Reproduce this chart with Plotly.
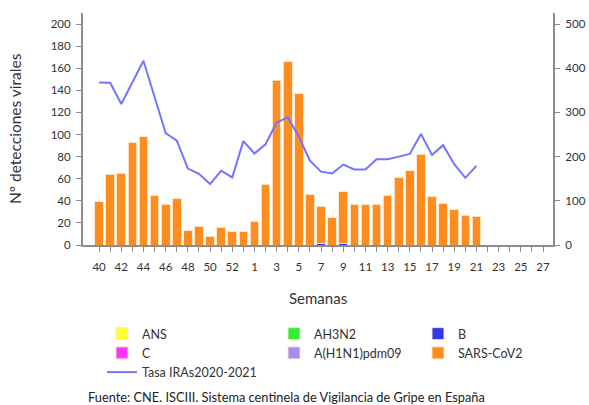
import plotly.graph_objects as go

weeks = [str(w) for w in range(40, 54)] + [str(w) for w in range(1, 28)]

sars_cov2 = [39, 64, 65, 93, 98, 45, 37, 42, 13, 17, 8, 16, 12, 12,
             21, 55, 149, 166, 137, 46, 34, 25, 47, 37, 37, 37, 45, 61, 67, 82,
             44, 38, 32, 27, 26, None, None, None, None, None, None]
b_vals = [0] * 41
b_vals[20] = 1   # week 7
b_vals[22] = 1   # week 9
zeros = [0] * 41

tasa_iras = [368, 367, 319, 367, 417, 335, 253, 236, 173, 161, 138, 168, 153, 235,
             207, 228, 277, 289, 245, 191, 166, 162, 182, 171, 171, 194, 194, 200, 206, 251,
             204, 226, 183, 152, 179, None, None, None, None, None, None]

left_ticks = list(range(0, 201, 20))
right_ticks = list(range(0, 501, 100))
tick_text = [w if i % 2 == 0 else "" for i, w in enumerate(weeks)]
xpos = list(range(len(weeks)))

FONT = "Lato, 'Open Sans', sans-serif"
AX = "#8c8c8c"
TXT = "#333"

fig = go.Figure()

def bar(name, y, color, legend):
    fig.add_trace(go.Bar(
        x=xpos, y=y, name=name, legend=legend,
        marker=dict(color=color, line=dict(color="rgba(255,230,200,0.9)", width=1)),
        yaxis="y",
    ))

bar("B", b_vals, "#3535ee", "legend3")
bar("ANS", zeros, "#ffff33", "legend")
bar("C", zeros, "#ff33ff", "legend")
bar("AH3N2", zeros, "#33ee33", "legend2")
bar("A(H1N1)pdm09", zeros, "#a58cf0", "legend2")
bar("SARS-CoV2", sars_cov2, "#ff8c1f", "legend3")

fig.add_trace(go.Scatter(
    x=xpos, y=tasa_iras, name="Tasa IRAs2020-2021", mode="lines",
    line=dict(color="#7474ff", width=2), yaxis="y2", legend="legend",
))

leg_common = dict(
    xref="container", yref="container", xanchor="left", yanchor="top",
    bgcolor="rgba(0,0,0,0)", font=dict(family=FONT, size=12.5, color=TXT),
    tracegroupgap=0, traceorder="normal", itemclick=False,
)

LEG_Y = 1 - 319 / 405

fig.update_layout(
    width=589, height=405,
    margin=dict(l=83, r=36, t=13, b=160, autoexpand=False),
    paper_bgcolor="white", plot_bgcolor="white",
    barmode="stack", bargap=0.22,
    font=dict(family=FONT, size=11.5, color=TXT),
    xaxis=dict(
        range=[-1.45, 40.9], automargin=False,
        tickmode="array", tickvals=xpos, ticktext=tick_text,
        ticks="outside", ticklen=5, tickwidth=1, tickcolor=AX,
        ticklabelstandoff=5,
        showline=True, linecolor=AX, linewidth=2,
        showgrid=False, zeroline=False,
        tickfont=dict(family=FONT, size=11.5, color=TXT),
    ),
    yaxis=dict(
        range=[0, 210], tickvals=left_ticks, automargin=False,
        ticks="outside", ticklen=5, tickcolor=AX, ticklabelstandoff=3,
        showline=True, linecolor=AX, linewidth=2,
        showgrid=False, zeroline=False,
        tickfont=dict(family=FONT, size=11.5, color=TXT),
    ),
    yaxis2=dict(
        range=[0, 525], tickvals=right_ticks, overlaying="y", side="right",
        automargin=False,
        ticks="outside", ticklen=5, tickcolor=AX, ticklabelstandoff=3,
        showline=True, linecolor=AX, linewidth=2,
        showgrid=False, zeroline=False,
        tickfont=dict(family=FONT, size=11.5, color=TXT),
    ),
    legend=dict(x=102 / 589, y=LEG_Y, **leg_common),
    legend2=dict(x=274 / 589, y=LEG_Y, **leg_common),
    legend3=dict(x=418 / 589, y=LEG_Y, **leg_common),
    annotations=[
        dict(text="Semanas", xref="paper", yref="paper", x=0.5, y=(245 - 298) / 232,
             showarrow=False, font=dict(family=FONT, size=15, color=TXT),
             xanchor="center", yanchor="middle"),
        dict(text="Nº detecciones virales", xref="paper", yref="paper",
             x=(15 - 83) / 470, y=0.5, textangle=-90, showarrow=False,
             font=dict(family=FONT, size=15.5, color=TXT),
             xanchor="center", yanchor="middle"),
        dict(text="Fuente: CNE. ISCIII. Sistema centinela de Vigilancia de Gripe en España",
             xref="paper", yref="paper", x=(86 - 83) / 470, y=(245 - 397) / 232,
             showarrow=False, font=dict(family=FONT, size=12.8, color="#222"),
             xanchor="left", yanchor="middle"),
    ],
)

fig.write_html("out.html", config={"displayModeBar": False},
               post_script="document.body.style.margin='0px';")
